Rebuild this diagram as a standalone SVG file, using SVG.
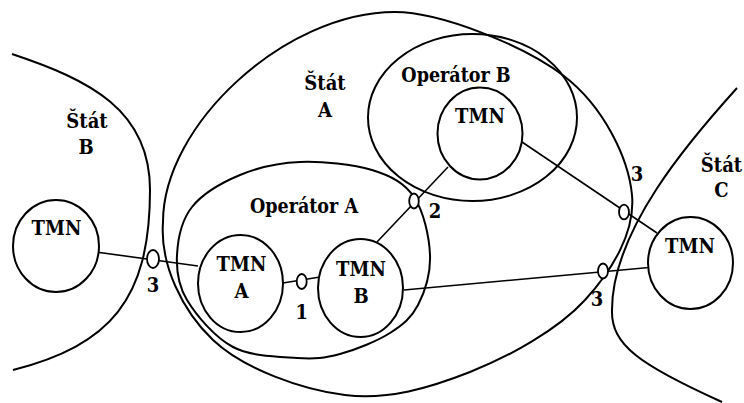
<svg xmlns="http://www.w3.org/2000/svg" width="744" height="403" viewBox="0 0 744 403">
  <style>
    .region { fill: none; stroke: #000; stroke-width: 2; }
    .node { fill: #fff; stroke: #000; stroke-width: 2; }
    .link { fill: none; stroke: #000; stroke-width: 1.6; }
    .port { fill: #fff; stroke: #000; stroke-width: 1.8; }
    text { font-family: "DejaVu Serif Condensed", "DejaVu Serif", serif; font-weight: bold; fill: #000; text-anchor: middle; }
    .lbl { font-size: 20px; }
    .op { font-size: 19.5px; }
    .num { font-size: 20px; }
  </style>
  <rect width="744" height="403" fill="#fff"/>

  <!-- state boundaries -->
  <g id="stat-b">
    <path class="region" d="M 12,54 C 90,80 150,110 150,190 C 150,300 110,345 13,370"/>
    <text class="lbl" x="87" y="128">Štát</text>
    <text class="lbl" x="86" y="154">B</text>
  </g>
  <g id="stat-c">
    <path class="region" d="M 737,88 C 690,140 612,230 612,310 C 611,345 640,365 722,402"/>
    <text class="lbl" x="721.5" y="172">Štát</text>
    <text class="lbl" x="721.5" y="197">C</text>
  </g>
  <g id="stat-a">
    <path class="region" d="M 395,12 C 440,12 524.5,45.5 564,76 C 603.5,106.5 628.5,157.7 632,195 C 635.5,232.3 612,270.5 585,300 C 558,329.5 510,356.2 470,372 C 430,387.8 387.8,400.3 345,395 C 302.2,389.7 243.3,368.8 213,340 C 182.7,311.2 159.7,264.8 163,222 C 163,125 285,12 395,12 Z"/>
    <text class="lbl" x="325" y="90">Štát</text>
    <text class="lbl" x="325" y="117">A</text>
  </g>

  <!-- operator domains -->
  <g id="operator-a">
    <path class="region" d="M 300,162 C 322,161.2 353,164.2 372,170 C 391,175.8 404.3,182.8 414,197 C 423.7,211.2 429.3,237 430,255 C 430.7,273 424.7,292 418,305 C 411.3,318 403,324.8 390,333 C 377,341.2 355.5,349.8 340,354 C 324.5,358.2 314.8,359.2 297,358 C 279.2,356.8 251.3,356.7 233,347 C 214.7,337.3 196.3,315.3 187,300 C 177.7,284.7 176.2,270.5 177,255 C 177.8,239.5 181.5,220.3 192,207 C 202.5,193.7 222,182.5 240,175 C 258,167.5 278,162.8 300,162 Z"/>
    <text class="op" x="304" y="213">Operátor A</text>
  </g>
  <g id="operator-b">
    <ellipse class="region" cx="472.5" cy="117.5" rx="104.5" ry="83.5"/>
    <text class="op" x="456" y="82">Operátor B</text>
  </g>

  <!-- connectors with interface points -->
  <g id="connectors">
    <line class="link" x1="96" y1="252" x2="198" y2="266"/>
    <line class="link" x1="283" y1="283" x2="320" y2="277"/>
    <line class="link" x1="377" y1="242" x2="448" y2="167"/>
    <line class="link" x1="522" y1="142" x2="657" y2="233"/>
    <line class="link" x1="404" y1="290" x2="649" y2="267.5"/>
    <ellipse class="port" cx="153" cy="259" rx="6" ry="9"/>
    <ellipse class="port" cx="301.7" cy="281.5" rx="5" ry="7.5"/>
    <ellipse class="port" cx="414" cy="201" rx="4.8" ry="7.5"/>
    <ellipse class="port" cx="624" cy="212" rx="5" ry="7.3"/>
    <ellipse class="port" cx="603" cy="271" rx="5" ry="7.5"/>
    <text class="num" x="153" y="292">3</text>
    <text class="num" x="301.7" y="319">1</text>
    <text class="num" x="435" y="218">2</text>
    <text class="num" x="637" y="181">3</text>
    <text class="num" x="597" y="306">3</text>
  </g>

  <!-- TMN nodes -->
  <g id="tmn-stat-b">
    <ellipse class="node" cx="56" cy="246" rx="43" ry="46"/>
    <text class="lbl" x="56.5" y="235">TMN</text>
  </g>
  <g id="tmn-a">
    <ellipse class="node" cx="240.5" cy="283.5" rx="42.5" ry="48.5"/>
    <text class="lbl" x="241.5" y="271">TMN</text>
    <text class="lbl" x="241.5" y="298">A</text>
  </g>
  <g id="tmn-b">
    <ellipse class="node" cx="360.5" cy="288" rx="42.5" ry="49"/>
    <text class="lbl" x="361" y="276">TMN</text>
    <text class="lbl" x="361" y="303">B</text>
  </g>
  <g id="tmn-operator-b">
    <ellipse class="node" cx="480" cy="133.5" rx="42.5" ry="46"/>
    <text class="lbl" x="480" y="123">TMN</text>
  </g>
  <g id="tmn-stat-c">
    <ellipse class="node" cx="690.5" cy="263" rx="42.5" ry="46"/>
    <text class="lbl" x="690" y="253">TMN</text>
  </g>
</svg>
